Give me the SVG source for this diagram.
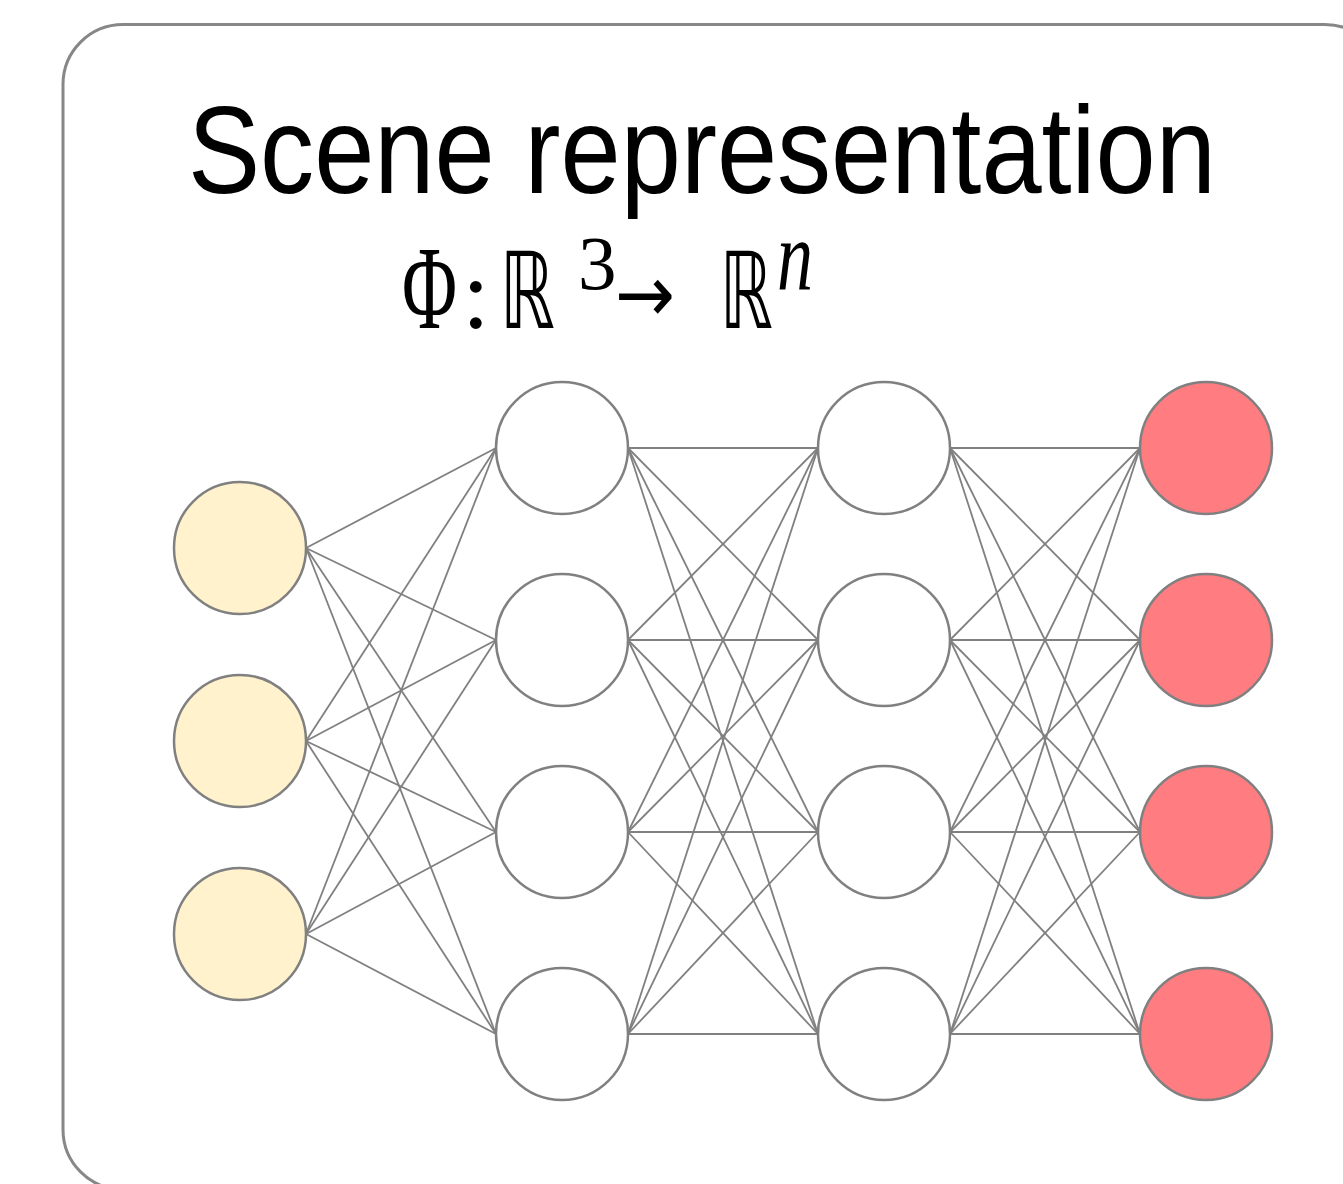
<svg xmlns="http://www.w3.org/2000/svg" width="1343" height="1184" viewBox="0 0 1343 1184">
  <style>
    .frame { fill: #ffffff; stroke: #878787; stroke-width: 3; }
    .node { stroke: #808080; stroke-width: 2.5; }
    .in { fill: #FFF2CC; }
    .hid { fill: #ffffff; }
    .out { fill: #FF7C80; }
    #connectors line { stroke: #808080; stroke-width: 1.8; }
    .title { font-family: "Liberation Sans", Arial, sans-serif; font-size: 124px; fill: #000; }
    .serif { font-family: "Liberation Serif", "DejaVu Serif", serif; fill: #000; }
    .sym { font-family: "DejaVu Sans", "Noto Sans", sans-serif; fill: #000; }
  </style>

  <!-- rounded panel, running past the right and bottom edges -->
  <rect class="frame" x="63" y="24.5" width="1322" height="1165" rx="60" ry="60"/>

  <!-- heading (slightly condensed) -->
  <text class="title" transform="translate(188 193) scale(0.872 1)" x="0" y="0">Scene representation</text>

  <!-- mapping Φ: R^3 -> R^n, glyph by glyph -->
  <g id="formula">
    <text class="serif" x="402" y="328" font-size="118" textLength="55" lengthAdjust="spacingAndGlyphs">Φ</text>
    <text class="serif" x="462" y="328" font-size="100">:</text>
    <text class="sym" x="500" y="328" font-size="106" textLength="55" lengthAdjust="spacingAndGlyphs">ℝ</text>
    <text class="serif" x="578" y="289" font-size="77">3</text>
    <text class="sym" x="615" y="322" font-size="80" textLength="60" lengthAdjust="spacingAndGlyphs">→</text>
    <text class="sym" x="720" y="328" font-size="106" textLength="53" lengthAdjust="spacingAndGlyphs">ℝ</text>
    <text class="serif" x="777" y="289" font-size="100" font-style="italic" textLength="36" lengthAdjust="spacingAndGlyphs">n</text>
  </g>

  <!-- weights between layers -->
  <g id="connectors">
    <!-- input -> hidden 1 -->
    <line x1="306" y1="548" x2="496" y2="448"/>
    <line x1="306" y1="548" x2="496" y2="640"/>
    <line x1="306" y1="548" x2="496" y2="832"/>
    <line x1="306" y1="548" x2="496" y2="1034"/>
    <line x1="306" y1="741" x2="496" y2="448"/>
    <line x1="306" y1="741" x2="496" y2="640"/>
    <line x1="306" y1="741" x2="496" y2="832"/>
    <line x1="306" y1="741" x2="496" y2="1034"/>
    <line x1="306" y1="934" x2="496" y2="448"/>
    <line x1="306" y1="934" x2="496" y2="640"/>
    <line x1="306" y1="934" x2="496" y2="832"/>
    <line x1="306" y1="934" x2="496" y2="1034"/>
    <!-- hidden 1 -> hidden 2 -->
    <line x1="628" y1="448" x2="818" y2="448"/>
    <line x1="628" y1="448" x2="818" y2="640"/>
    <line x1="628" y1="448" x2="818" y2="832"/>
    <line x1="628" y1="448" x2="818" y2="1034"/>
    <line x1="628" y1="640" x2="818" y2="448"/>
    <line x1="628" y1="640" x2="818" y2="640"/>
    <line x1="628" y1="640" x2="818" y2="832"/>
    <line x1="628" y1="640" x2="818" y2="1034"/>
    <line x1="628" y1="832" x2="818" y2="448"/>
    <line x1="628" y1="832" x2="818" y2="640"/>
    <line x1="628" y1="832" x2="818" y2="832"/>
    <line x1="628" y1="832" x2="818" y2="1034"/>
    <line x1="628" y1="1034" x2="818" y2="448"/>
    <line x1="628" y1="1034" x2="818" y2="640"/>
    <line x1="628" y1="1034" x2="818" y2="832"/>
    <line x1="628" y1="1034" x2="818" y2="1034"/>
    <!-- hidden 2 -> output -->
    <line x1="950" y1="448" x2="1140" y2="448"/>
    <line x1="950" y1="448" x2="1140" y2="640"/>
    <line x1="950" y1="448" x2="1140" y2="832"/>
    <line x1="950" y1="448" x2="1140" y2="1034"/>
    <line x1="950" y1="640" x2="1140" y2="448"/>
    <line x1="950" y1="640" x2="1140" y2="640"/>
    <line x1="950" y1="640" x2="1140" y2="832"/>
    <line x1="950" y1="640" x2="1140" y2="1034"/>
    <line x1="950" y1="832" x2="1140" y2="448"/>
    <line x1="950" y1="832" x2="1140" y2="640"/>
    <line x1="950" y1="832" x2="1140" y2="832"/>
    <line x1="950" y1="832" x2="1140" y2="1034"/>
    <line x1="950" y1="1034" x2="1140" y2="448"/>
    <line x1="950" y1="1034" x2="1140" y2="640"/>
    <line x1="950" y1="1034" x2="1140" y2="832"/>
    <line x1="950" y1="1034" x2="1140" y2="1034"/>
  </g>

  <!-- input layer -->
  <g id="in1"><circle class="node in" cx="240" cy="548" r="66"/></g>
  <g id="in2"><circle class="node in" cx="240" cy="741" r="66"/></g>
  <g id="in3"><circle class="node in" cx="240" cy="934" r="66"/></g>

  <!-- first hidden layer -->
  <g id="h1a"><circle class="node hid" cx="562" cy="448" r="66"/></g>
  <g id="h1b"><circle class="node hid" cx="562" cy="640" r="66"/></g>
  <g id="h1c"><circle class="node hid" cx="562" cy="832" r="66"/></g>
  <g id="h1d"><circle class="node hid" cx="562" cy="1034" r="66"/></g>

  <!-- second hidden layer -->
  <g id="h2a"><circle class="node hid" cx="884" cy="448" r="66"/></g>
  <g id="h2b"><circle class="node hid" cx="884" cy="640" r="66"/></g>
  <g id="h2c"><circle class="node hid" cx="884" cy="832" r="66"/></g>
  <g id="h2d"><circle class="node hid" cx="884" cy="1034" r="66"/></g>

  <!-- output layer -->
  <g id="out1"><circle class="node out" cx="1206" cy="448" r="66"/></g>
  <g id="out2"><circle class="node out" cx="1206" cy="640" r="66"/></g>
  <g id="out3"><circle class="node out" cx="1206" cy="832" r="66"/></g>
  <g id="out4"><circle class="node out" cx="1206" cy="1034" r="66"/></g>
</svg>
